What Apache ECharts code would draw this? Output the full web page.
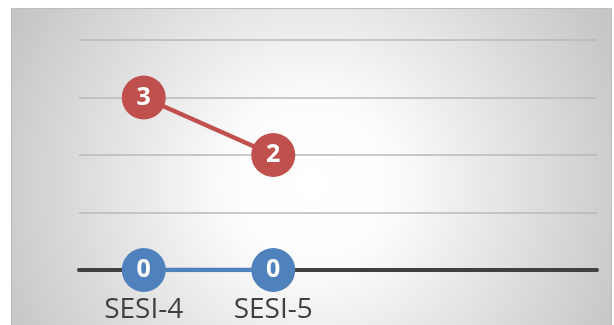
<!DOCTYPE html>
<html>
<head>
<meta charset="utf-8">
<script src="https://cdn.jsdelivr.net/npm/echarts@6/dist/echarts.min.js"></script>
<style>
  html, body { margin: 0; padding: 0; background: #ffffff; overflow: hidden; }
  #chart { position: absolute; left: 11px; top: 8px; width: 601px; height: 320px;
           border: 1px solid #bdbdbd; box-sizing: border-box; }
</style>
</head>
<body>
<div id="chart"></div>
<script>
// categories (last two are empty slots on the axis)
var categories = ['SESI-4', 'SESI-5', '', ''];
// series values
var redValues = [3, 2, null, null];
var blueValues = [0, 0, null, null];
// y axis range
var yMin = 0, yMax = 4, yStep = 1;

var chart = echarts.init(document.getElementById('chart'));

function lineSeries(name, data, color) {
  return {
    name: name,
    type: 'line',
    data: data,
    symbol: 'circle',
    symbolSize: 44,
    lineStyle: { color: color, width: 4.5 },
    itemStyle: { color: color },
    label: {
      show: true,
      position: 'inside',
      color: '#ffffff',
      fontWeight: 'bold',
      fontSize: 25,
      fontFamily: 'Open Sans'
    },
    z: 3
  };
}

chart.setOption({
  animation: false,
  backgroundColor: {
    type: 'radial', x: 0.5, y: 0.55, r: 1.05,
    colorStops: [
      { offset: 0, color: '#ffffff' },
      { offset: 0.25, color: '#fcfcfc' },
      { offset: 1, color: '#c6c6c6' }
    ]
  },
  grid: { left: 67, top: 31, width: 518, height: 230, containLabel: false },
  xAxis: {
    type: 'category',
    data: categories,
    boundaryGap: true,
    axisLine: { lineStyle: { color: '#404040', width: 4 } },
    axisTick: { show: false },
    axisLabel: {
      color: '#404040',
      fontSize: 28,
      fontFamily: 'Open Sans',
      margin: 26
    }
  },
  yAxis: {
    type: 'value',
    min: yMin,
    max: yMax,
    interval: yStep,
    axisLine: { show: false },
    axisTick: { show: false },
    axisLabel: { show: false },
    splitLine: { lineStyle: { color: '#b8b8b8', width: 1.5 } }
  },
  series: [
    lineSeries('blue', blueValues, '#4f81bd'),
    lineSeries('red', redValues, '#c0504d')
  ]
});
</script>
</body>
</html>
